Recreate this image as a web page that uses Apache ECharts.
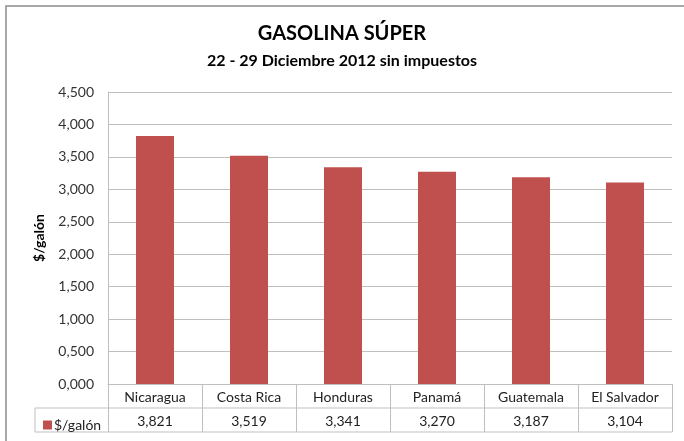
<!DOCTYPE html>
<html>
<head>
<meta charset="utf-8">
<script src="https://cdn.jsdelivr.net/npm/echarts@6/dist/echarts.min.js"></script>
<style>
  html, body { margin: 0; padding: 0; background: #fff; }
  #chart { width: 684px; height: 441px; }
</style>
</head>
<body>
<div id="chart"></div>
<script>
// Datos del gráfico
const paises = ['Nicaragua', 'Costa Rica', 'Honduras', 'Panamá', 'Guatemala', 'El Salvador'];
const precios = [3.821, 3.519, 3.341, 3.270, 3.187, 3.104];
const serieNombre = '$/galón';

// Formato con coma decimal (3,821)
const fmt = v => v.toFixed(3).replace('.', ',');

const chart = echarts.init(document.getElementById('chart'));

const FONT = 'Lato, "Open Sans", sans-serif';
const LINE = '#bfbfbf';

// Geometría de la tabla de datos
const plotLeft = 108, plotRight = 672, plotBottom = 384;
const rowH = 24, tableLeft = 35;

const option = {
    backgroundColor: '#fff',
    textStyle: { fontFamily: FONT },
    title: [
        {
            text: 'GASOLINA SÚPER',
            left: 'center',
            top: 19,
            textStyle: { fontSize: 20, fontWeight: 'bold', color: '#000', fontFamily: FONT }
        },
        {
            text: '22 - 29 Diciembre 2012 sin impuestos',
            left: 'center',
            top: 48,
            textStyle: { fontSize: 16, fontWeight: 'bold', color: '#000', fontFamily: FONT }
        }
    ],
    legend: {
        left: tableLeft + 3,
        top: plotBottom + rowH + 5,
        itemWidth: 9,
        itemHeight: 9,
        itemGap: 2,
        icon: 'rect',
        data: [serieNombre],
        textStyle: { fontSize: 14, color: '#222', padding: [0, 0, 0, -3] }
    },
    grid: {
        left: plotLeft,
        right: 684 - plotRight,
        top: 92,
        bottom: 441 - plotBottom,
        containLabel: false
    },
    xAxis: [
        {
            type: 'category',
            data: paises,
            axisLine: { lineStyle: { color: LINE } },
            axisTick: { show: true, length: rowH * 2, lineStyle: { color: LINE } },
            axisLabel: { color: '#222', fontSize: 14, margin: 6, interval: 0 }
        },
        {
            type: 'category',
            data: paises,
            position: 'bottom',
            offset: rowH,
            axisLine: { show: false },
            axisTick: { show: false },
            axisLabel: {
                color: '#222',
                fontSize: 14,
                margin: 6,
                interval: 0,
                formatter: (v, i) => fmt(precios[i])
            }
        }
    ],
    yAxis: {
        type: 'value',
        min: 0,
        max: 4.5,
        interval: 0.5,
        name: serieNombre,
        nameLocation: 'middle',
        nameGap: 62,
        nameTextStyle: { fontSize: 14, fontWeight: 'bold', color: '#000' },
        axisLine: { show: true, lineStyle: { color: LINE } },
        axisTick: { show: false },
        axisLabel: { color: '#333', fontSize: 14, margin: 14, formatter: v => fmt(v) },
        splitLine: { lineStyle: { color: LINE } }
    },
    series: [{
        name: serieNombre,
        type: 'bar',
        data: precios,
        barWidth: 38,
        itemStyle: { color: '#C0504D' }
    }],
    graphic: [
        // marco exterior
        {
            type: 'rect',
            shape: { x: 6, y: 6, width: 700, height: 460 },
            style: { fill: 'none', stroke: '#8c8c8c', lineWidth: 1.5 },
            silent: true
        },
        // líneas de la tabla
        {
            type: 'line',
            shape: { x1: tableLeft, y1: plotBottom + rowH, x2: plotRight, y2: plotBottom + rowH },
            style: { stroke: LINE, lineWidth: 1 }
        },
        {
            type: 'line',
            shape: { x1: tableLeft, y1: plotBottom + rowH * 2, x2: plotRight, y2: plotBottom + rowH * 2 },
            style: { stroke: LINE, lineWidth: 1 }
        },
        {
            type: 'line',
            shape: { x1: tableLeft, y1: plotBottom + rowH, x2: tableLeft, y2: plotBottom + rowH * 2 },
            style: { stroke: LINE, lineWidth: 1 }
        }
    ]
};

chart.setOption(option);
</script>
</body>
</html>
